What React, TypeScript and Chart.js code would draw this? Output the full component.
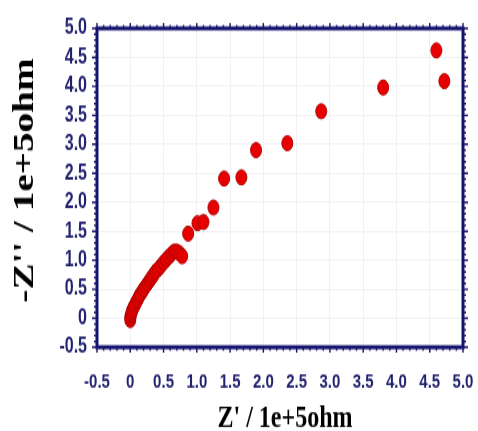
import React, { useEffect, useRef } from 'react';
import { Chart, registerables } from 'chart.js';

Chart.register(...registerables);

// ---- data (Nyquist plot) ----
const zReal: number[] = [
  0.0, 0.0, 0.01, 0.02, 0.03, 0.05, 0.07, 0.09, 0.11, 0.13, 0.15, 0.18, 0.2, 0.23,
  0.26, 0.29, 0.32, 0.35, 0.38, 0.42, 0.46, 0.5, 0.54, 0.58, 0.62, 0.66, 0.7, 0.74,
  0.78, 0.87, 1.01, 1.1, 1.25, 1.41, 1.67, 1.89, 2.36, 2.87, 3.8, 4.6, 4.72,
];
const zImag: number[] = [
  -0.03, 0.02, 0.06, 0.1, 0.14, 0.19, 0.23, 0.28, 0.32, 0.37, 0.41, 0.46, 0.5, 0.55,
  0.6, 0.65, 0.7, 0.75, 0.8, 0.85, 0.9, 0.96, 1.01, 1.06, 1.11, 1.15, 1.15, 1.12,
  1.07, 1.46, 1.64, 1.66, 1.91, 2.41, 2.43, 2.9, 3.02, 3.57, 3.98, 4.62, 4.09,
];
const xTickLabels: string[] = ['-0.5', '0', '0.5', '1.0', '1.5', '2.0', '2.5', '3.0', '3.5', '4.0', '4.5', '5.0'];
const yTickLabels: string[] = ['-0.5', '0', '0.5', '1.0', '1.5', '2.0', '2.5', '3.0', '3.5', '4.0', '4.5', '5.0'];
const xTitle = "Z' / 1e+5ohm";
const yTitle = "-Z'' / 1e+5ohm";

const AXIS = '#14146e';
const LABEL = '#22226f';
const CSS_W = 478;
const CSS_H = 431;
const LOGICAL_H = 319; // drawn then stretched vertically, like the reference

const framePlugin = {
  id: 'frameTicks',
  afterDraw(chart: any) {
    const { ctx, chartArea, scales } = chart;
    const { left, right, top, bottom } = chartArea;
    const xs = scales.x;
    const ys = scales.y;
    ctx.save();
    ctx.strokeStyle = AXIS;
    ctx.lineWidth = 1.4;
    ctx.beginPath();
    for (let i = 0; i <= 55; i++) {
      const v = -0.5 + i * 0.1;
      const px = xs.getPixelForValue(v);
      const len = i % 5 === 0 ? 4 : 2.5;
      ctx.moveTo(px, bottom);
      ctx.lineTo(px, bottom + len);
      ctx.moveTo(px, top);
      ctx.lineTo(px, top - len);
      const py = ys.getPixelForValue(v);
      const hl = i % 5 === 0 ? 5 : 3;
      ctx.moveTo(left, py);
      ctx.lineTo(left - hl, py);
      ctx.moveTo(right, py);
      ctx.lineTo(right + hl, py);
    }
    ctx.stroke();
    ctx.lineWidth = 3;
    ctx.strokeRect(left, top, right - left, bottom - top);

    // axis titles
    ctx.fillStyle = '#000';
    ctx.font = 'bold 24px "Liberation Serif", "Times New Roman", serif';
    ctx.textAlign = 'center';
    ctx.textBaseline = 'alphabetic';
    ctx.fillText(chart.options.scales.x.title.text, 285, 316);

    ctx.font = 'bold 29px "Liberation Serif", "Times New Roman", serif';
    ctx.translate(33, 133.6);
    ctx.rotate(-Math.PI / 2);
    ctx.fillText(chart.options.scales.y.title.text, 0, 0);
    ctx.restore();
  },
};

export default function App() {
  const ref = useRef<HTMLCanvasElement | null>(null);

  useEffect(() => {
    if (!ref.current) return;
    const points = zReal.map((x, i) => ({ x, y: zImag[i] }));
    const tickFont = { family: '"Liberation Sans", Arial, sans-serif', size: 15, weight: 'bold' as const };
    const chart = new Chart(ref.current, {
      type: 'scatter',
      data: {
        datasets: [
          {
            data: points,
            pointRadius: 5.5,
            pointHoverRadius: 5.5,
            pointBackgroundColor: '#e60000',
            pointBorderColor: '#b40000',
            pointBorderWidth: 1,
          },
        ],
      },
      options: {
        responsive: false,
        animation: false,
        devicePixelRatio: 1,
        layout: { padding: { top: 21, right: 15, left: 0, bottom: 0 } },
        plugins: { legend: { display: false }, tooltip: { enabled: false } },
        events: [],
        scales: {
          x: {
            type: 'linear',
            min: -0.5,
            max: 5.0,
            afterFit: (s: any) => {
              s.height = LOGICAL_H - 257;
              s.paddingLeft = 0;
              s.paddingRight = 0;
            },
            ticks: {
              stepSize: 0.5,
              padding: 17,
              color: LABEL,
              font: tickFont,
              maxRotation: 0,
              autoSkip: false,
              callback: (_v: any, i: number) => xTickLabels[i],
            },
            grid: { color: '#f0f0f6', lineWidth: 1, drawTicks: false },
            border: { display: false },
            title: { display: false, text: xTitle },
          },
          y: {
            type: 'linear',
            min: -0.5,
            max: 5.0,
            afterFit: (s: any) => {
              s.width = 97;
              s.paddingTop = 0;
              s.paddingBottom = 0;
            },
            ticks: {
              stepSize: 0.5,
              padding: 10,
              color: LABEL,
              font: { ...tickFont, size: 16 },
              autoSkip: false,
              callback: (_v: any, i: number) => yTickLabels[i],
            },
            grid: { color: '#f0f0f6', lineWidth: 1, drawTicks: false },
            border: { display: false },
            title: { display: false, text: yTitle },
          },
        },
      },
      plugins: [framePlugin],
    });
    return () => chart.destroy();
  }, []);

  return (
    <div style={{ position: 'fixed', left: 0, top: 0, width: CSS_W, height: CSS_H, background: '#fff' }}>
      <canvas
        ref={ref}
        width={CSS_W}
        height={LOGICAL_H}
        style={{ display: 'block', width: CSS_W + 'px', height: CSS_H + 'px' }}
      />
    </div>
  );
}
